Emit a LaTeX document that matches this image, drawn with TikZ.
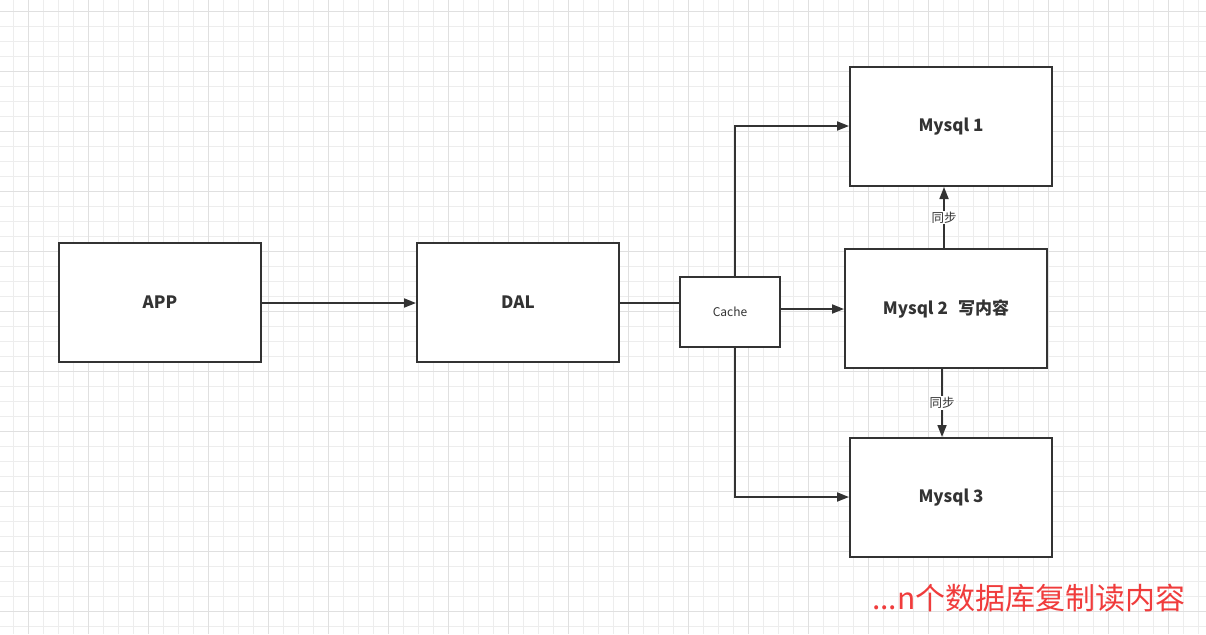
\documentclass[tikz,border=0pt]{standalone}
\usepackage{fontspec}
\setmainfont{Noto Sans CJK SC}
\usetikzlibrary{arrows.meta}
\definecolor{ink}{HTML}{333333}
\definecolor{minor}{HTML}{EDEDED}
\definecolor{major}{HTML}{E0E0E0}
\definecolor{note}{HTML}{F03C3C}
\begin{document}
\begin{tikzpicture}[x=1pt,y=-1pt,
    box/.style={draw=ink,fill=white,line width=2pt,minimum width=202pt,minimum height=119pt,font=\fontsize{17}{19}\selectfont\bfseries,text=ink},
    link/.style={draw=ink,line width=1.8pt},
    arr/.style={link,-{Triangle[length=12pt,width=9pt]}},
    tag/.style={fill=white,inner sep=1pt,font=\fontsize{12.5}{14}\selectfont,text=ink}]
    \useasboundingbox (0,0) rectangle (1206,634);
    \fill[white] (0,0) rectangle (1206,634);
    % grid
    \foreach \i in {13,28,...,1206} \draw[minor,line width=0.8pt] (\i,0) -- (\i,634);
    \foreach \j in {11,26,...,634} \draw[minor,line width=0.8pt] (0,\j) -- (1206,\j);
    \foreach \i in {28,88,...,1206} \draw[major,line width=0.8pt] (\i,0) -- (\i,634);
    \foreach \j in {11,71,...,634} \draw[major,line width=0.8pt] (0,\j) -- (1206,\j);
    % boxes
    \node[box] (app) at (160,302.5) {APP};
    \node[box] (dal) at (518,302.5) {DAL};
    \node[box,minimum width=100pt,minimum height=70pt,font=\fontsize{12}{14}\selectfont] (cache) at (730,312) {Cache};
    \node[box] (db1) at (951,126.5) {Mysql 1};
    \node[box] (db2) at (946,308.5) {Mysql 2\hspace{0.6em}写内容};
    \node[box] (db3) at (951,497.5) {Mysql 3};
    % links
    \draw[arr] (app.east |- 0,303) -- (dal.west |- 0,303);
    \draw[link] (dal.east |- 0,303) -- (cache.west |- 0,303);
    \draw[arr] (cache.east |- 0,309) -- (db2.west |- 0,309);
    \draw[arr] (735,277) |- (db1.west |- 0,126);
    \draw[arr] (735,347) |- (db3.west |- 0,497);
    \draw[arr] (db2.north -| 944,0) -- (db1.south -| 944,0) node[tag,pos=0.5] {同步};
    \draw[arr] (db2.south -| 942,0) -- (db3.north -| 942,0) node[tag,pos=0.5] {同步};
    % note
    \node[text=note,font=\fontsize{30}{32}\selectfont,anchor=east] (note) at (1189,598) {...n个数据库复制读内容};
\end{tikzpicture}
\end{document}
